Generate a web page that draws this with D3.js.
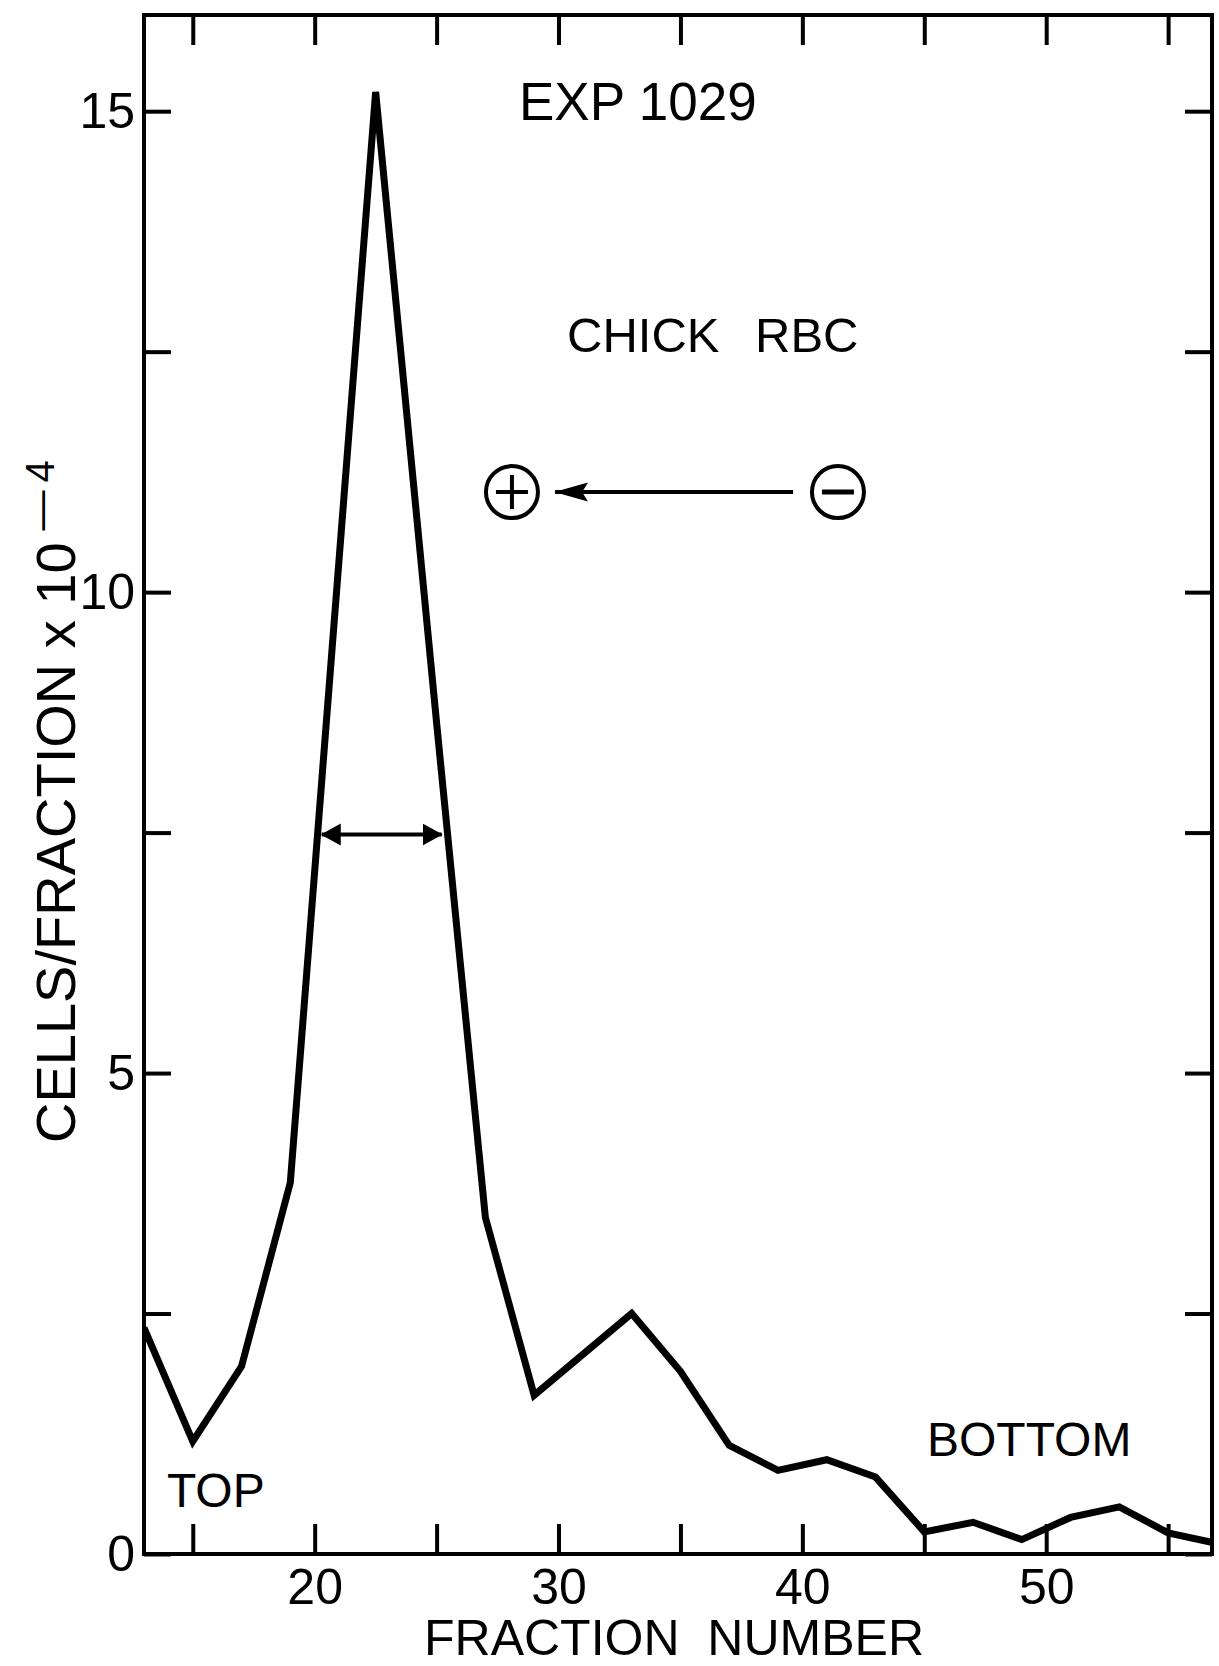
<!DOCTYPE html>
<html>
<head>
<meta charset="utf-8">
<script src="https://cdn.jsdelivr.net/npm/d3@7"></script>
<style>
	body { margin: 0; background: #fff; }
	svg text { font-family: "Liberation Sans", Arial, sans-serif; fill: #000; }
</style>
</head>
<body>
<div class="chart"></div>
<script>
// fraction number along the gradient and cells per fraction (x 10^-4)
const fractions = [13, 15, 17, 19, 22.5, 25, 27, 29, 33, 35, 37, 39, 41, 43, 45, 47, 49, 51, 53, 55, 57]
const cells = [2.35, 1.17, 1.95, 3.86, 15.2, 8.64, 3.5, 1.65, 2.5, 1.9, 1.13, 0.87, 0.98, 0.8, 0.23, 0.33, 0.15, 0.38, 0.49, 0.22, 0.11]

const xTicks = [15, 20, 25, 30, 35, 40, 45, 50, 55]
const xLabels = [20, 30, 40, 50]
const yTicks = [0, 2.5, 5, 7.5, 10, 12.5, 15]
const yLabels = [0, 5, 10, 15]

function plot_chart() {
	const width = 1219
	const height = 1666
	const margin = { top: 15, right: 7, bottom: 112, left: 144 }
	const font = '"Liberation Sans", Arial, sans-serif'

	const svg = d3.select(".chart")
		.append("svg")
		.attr("width", width)
		.attr("height", height)

	const x = d3.scaleLinear().domain([13, 56.8]).range([margin.left, width - margin.right])
	const y = d3.scaleLinear().domain([0, 16]).range([height - margin.bottom, margin.top])

	const data = fractions.map((f, i) => ({ f: f, v: cells[i] }))

	// arrow heads
	const defs = svg.append("defs")
	defs.append("marker")
		.attr("id", "head")
		.attr("markerUnits", "userSpaceOnUse")
		.attr("viewBox", "0 -12 20 24")
		.attr("markerWidth", 20)
		.attr("markerHeight", 24)
		.attr("refX", 19)
		.attr("refY", 0)
		.attr("orient", "auto-start-reverse")
		.append("path")
		.attr("d", "M0,-11L20,0L0,11Z")
		.attr("fill", "#000")
	defs.append("marker")
		.attr("id", "longhead")
		.attr("markerUnits", "userSpaceOnUse")
		.attr("viewBox", "0 -10 34 20")
		.attr("markerWidth", 34)
		.attr("markerHeight", 20)
		.attr("refX", 33)
		.attr("refY", 0)
		.attr("orient", "auto")
		.append("path")
		.attr("d", "M0,-9.5L34,0L0,9.5L6,0Z")
		.attr("fill", "#000")
	defs.append("clipPath")
		.attr("id", "plotarea")
		.append("rect")
		.attr("x", x(13))
		.attr("y", y(16))
		.attr("width", x(56.8) - x(13))
		.attr("height", y(0) - y(16))

	// axes, ticks pointing inward on all four sides
	svg.append("g")
		.attr("transform", `translate(0,${y(0)})`)
		.call(d3.axisBottom(x).tickValues(xTicks).tickSize(-30).tickPadding(14)
			.tickFormat(d => xLabels.includes(d) ? d : ""))
	svg.append("g")
		.attr("transform", `translate(0,${y(16)})`)
		.call(d3.axisTop(x).tickValues(xTicks).tickSize(-30).tickFormat(""))
	svg.append("g")
		.attr("transform", `translate(${x(13)},0)`)
		.call(d3.axisLeft(y).tickValues(yTicks).tickSize(-27).tickPadding(9)
			.tickFormat(d => yLabels.includes(d) ? d : ""))
	svg.append("g")
		.attr("transform", `translate(${x(56.8)},0)`)
		.call(d3.axisRight(y).tickValues(yTicks).tickSize(-27).tickFormat(""))

	svg.selectAll(".domain").remove()
	svg.selectAll(".tick line").attr("stroke", "#000").attr("stroke-width", 4)
	svg.selectAll(".tick text").attr("font-size", 50).attr("font-family", font)

	svg.append("rect")
		.attr("x", x(13))
		.attr("y", y(16))
		.attr("width", x(56.8) - x(13))
		.attr("height", y(0) - y(16))
		.attr("fill", "none")
		.attr("stroke", "#000")
		.attr("stroke-width", 4)

	// the profile
	svg.append("path")
		.datum(data)
		.attr("clip-path", "url(#plotarea)")
		.attr("fill", "none")
		.attr("stroke", "#000")
		.attr("stroke-width", 7)
		.attr("stroke-linejoin", "miter")
		.attr("d", d3.line().x(d => x(d.f)).y(d => y(d.v)))

	// width at half height
	svg.append("line")
		.attr("x1", x(20.29)).attr("x2", x(25.21))
		.attr("y1", y(7.48)).attr("y2", y(7.48))
		.attr("stroke", "#000")
		.attr("stroke-width", 4)
		.attr("marker-start", "url(#head)")
		.attr("marker-end", "url(#head)")

	// direction of migration
	svg.append("line")
		.attr("x1", x(39.62)).attr("x2", x(29.86))
		.attr("y1", y(11.04)).attr("y2", y(11.04))
		.attr("stroke", "#000")
		.attr("stroke-width", 4)
		.attr("marker-end", "url(#longhead)")
	const poles = [{ f: 28.09, sign: "+" }, { f: 41.46, sign: "-" }]
	poles.forEach(function (p) {
		const cx = x(p.f), cy = y(11.04)
		svg.append("circle")
			.attr("cx", cx).attr("cy", cy).attr("r", 26)
			.attr("fill", "none").attr("stroke", "#000").attr("stroke-width", 4)
		svg.append("line")
			.attr("x1", cx - 16).attr("x2", cx + 16).attr("y1", cy).attr("y2", cy)
			.attr("stroke", "#000").attr("stroke-width", p.sign == "+" ? 4 : 5)
		if (p.sign == "+") {
			svg.append("line")
				.attr("x1", cx).attr("x2", cx).attr("y1", cy - 17).attr("y2", cy + 17)
				.attr("stroke", "#000").attr("stroke-width", 4)
		}
	})

	// labels inside the plot
	const notes = [
		{ text: "EXP 1029", f: 28.38, v: 14.91, size: 53 },
		{ text: "CHICK", f: 30.35, v: 12.5, size: 49 },
		{ text: "RBC", f: 38.06, v: 12.5, size: 49 },
		{ text: "TOP", f: 13.94, v: 0.49, size: 48 },
		{ text: "BOTTOM", f: 45.11, v: 1.02, size: 48 }
	]
	svg.selectAll("text.note")
		.data(notes)
		.join("text")
		.attr("class", "note")
		.attr("x", d => x(d.f))
		.attr("y", d => y(d.v))
		.attr("font-size", d => d.size)
		.text(d => d.text)

	// axis titles
	svg.append("text")
		.attr("x", (x(13) + x(56.8)) / 2 - 4)
		.attr("y", 1655)
		.attr("text-anchor", "middle")
		.attr("font-size", 50)
		.style("white-space", "pre")
		.text("FRACTION  NUMBER")

	const ytitle = svg.append("text")
		.attr("transform", "translate(75,1143) rotate(-90)")
		.attr("font-size", 56)
	ytitle.append("tspan").text("CELLS/FRACTION x 10")
	ytitle.append("tspan")
		.attr("dx", 12)
		.attr("dy", -21)
		.attr("font-size", 40)
		.text("\u2014")
	ytitle.append("tspan")
		.attr("dx", 8)
		.attr("font-size", 40)
		.text("4")
}

plot_chart()
</script>
</body>
</html>
